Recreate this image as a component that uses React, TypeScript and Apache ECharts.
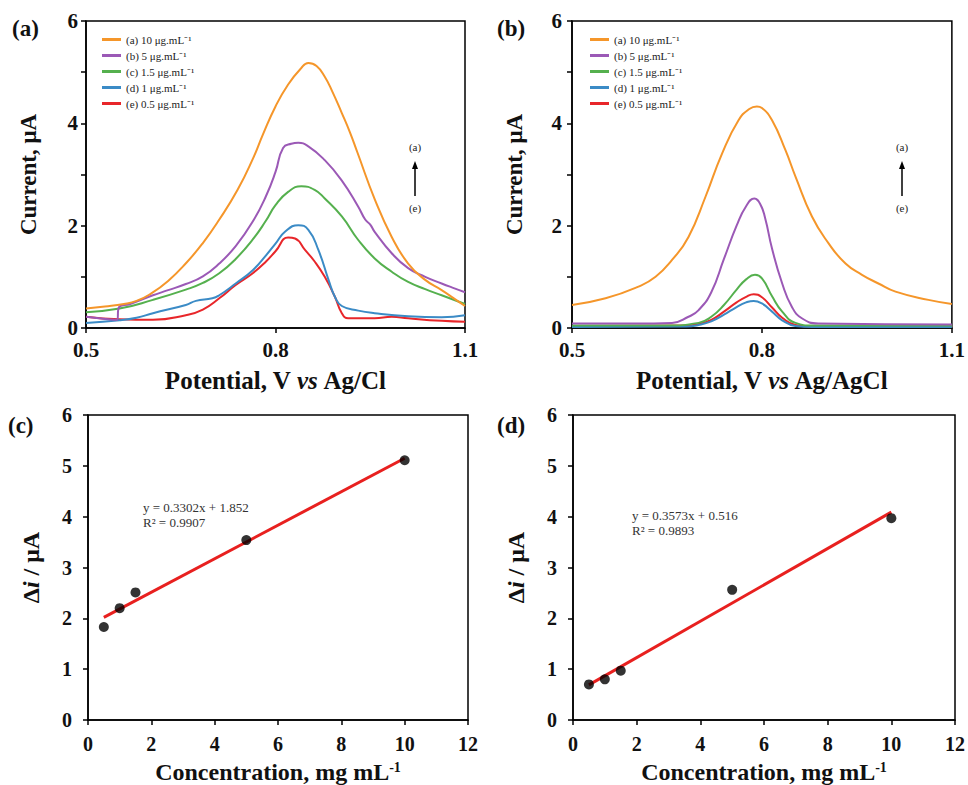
import React, { useEffect, useRef } from 'react';
import * as echarts from 'echarts';

const FONT = "'Liberation Serif', 'Times New Roman', serif";

const seriesNames = ['(a) 10 μg.mL⁻¹', '(b) 5 μg.mL⁻¹', '(c) 1.5 μg.mL⁻¹', '(d) 1 μg.mL⁻¹', '(e) 0.5 μg.mL⁻¹'];
const seriesColors = ['#F5962A', '#9B59B6', '#55B04E', '#3B8BC6', '#E8262A'];

// Panel (a): potential (V) vs current (μA)
const a10 = [[0.5, 0.38], [0.53, 0.42], [0.56, 0.47], [0.58, 0.53], [0.6, 0.65], [0.63, 0.92], [0.66, 1.29], [0.685, 1.66], [0.71, 2.1], [0.74, 2.7], [0.765, 3.33], [0.78, 3.78], [0.8, 4.33], [0.82, 4.76], [0.84, 5.07], [0.852, 5.18], [0.865, 5.12], [0.878, 4.91], [0.89, 4.62], [0.905, 4.2], [0.918, 3.82], [0.93, 3.42], [0.957, 2.52], [0.984, 1.78], [1.01, 1.26], [1.037, 0.94], [1.063, 0.74], [1.08, 0.6], [1.1, 0.43]];
const a5 = [[0.5, 0.22], [0.52, 0.19], [0.549, 0.16], [0.552, 0.4], [0.57, 0.47], [0.606, 0.64], [0.63, 0.74], [0.658, 0.86], [0.685, 1.01], [0.711, 1.26], [0.737, 1.6], [0.764, 2.08], [0.785, 2.58], [0.8, 3.05], [0.812, 3.52], [0.825, 3.6], [0.836, 3.62], [0.852, 3.55], [0.878, 3.28], [0.905, 2.88], [0.931, 2.37], [0.942, 2.12], [0.95, 2.02], [0.957, 1.88], [0.984, 1.46], [1.01, 1.17], [1.037, 1.0], [1.063, 0.87], [1.08, 0.79], [1.1, 0.7]];
const a15 = [[0.5, 0.31], [0.553, 0.38], [0.606, 0.55], [0.658, 0.75], [0.685, 0.88], [0.711, 1.07], [0.737, 1.35], [0.764, 1.73], [0.785, 2.1], [0.8, 2.4], [0.82, 2.66], [0.841, 2.77], [0.862, 2.7], [0.878, 2.53], [0.905, 2.18], [0.931, 1.72], [0.957, 1.36], [0.984, 1.1], [1.01, 0.9], [1.037, 0.76], [1.063, 0.64], [1.1, 0.47]];
const a1 = [[0.5, 0.1], [0.553, 0.15], [0.58, 0.2], [0.606, 0.29], [0.658, 0.45], [0.674, 0.53], [0.7, 0.58], [0.711, 0.64], [0.737, 0.87], [0.764, 1.13], [0.785, 1.42], [0.8, 1.65], [0.815, 1.88], [0.836, 2.01], [0.852, 1.92], [0.868, 1.52], [0.884, 0.94], [0.894, 0.61], [0.905, 0.43], [0.931, 0.34], [0.957, 0.29], [1.01, 0.23], [1.063, 0.21], [1.1, 0.25]];
const a05 = [[0.5, 0.22], [0.553, 0.17], [0.606, 0.16], [0.658, 0.25], [0.685, 0.36], [0.711, 0.58], [0.737, 0.84], [0.764, 1.07], [0.785, 1.3], [0.8, 1.5], [0.82, 1.77], [0.831, 1.75], [0.847, 1.52], [0.862, 1.3], [0.878, 1.0], [0.894, 0.61], [0.905, 0.29], [0.915, 0.19], [0.957, 0.19], [0.984, 0.22], [1.01, 0.19], [1.063, 0.14], [1.1, 0.12]];

// Panel (b)
const b10 = [[0.5, 0.45], [0.553, 0.58], [0.605, 0.81], [0.632, 1.0], [0.658, 1.33], [0.684, 1.78], [0.711, 2.57], [0.737, 3.41], [0.763, 4.06], [0.78, 4.28], [0.792, 4.33], [0.8, 4.3], [0.816, 4.06], [0.837, 3.48], [0.853, 2.96], [0.879, 2.18], [0.905, 1.66], [0.932, 1.26], [0.958, 1.04], [0.984, 0.87], [1.011, 0.71], [1.063, 0.55], [1.1, 0.47]];
const b5 = [[0.5, 0.09], [0.6, 0.09], [0.658, 0.1], [0.684, 0.22], [0.7, 0.35], [0.72, 0.7], [0.74, 1.35], [0.76, 2.0], [0.775, 2.38], [0.788, 2.53], [0.797, 2.43], [0.805, 2.15], [0.816, 1.55], [0.832, 0.87], [0.847, 0.42], [0.863, 0.19], [0.889, 0.09], [1.1, 0.07]];
const b15 = [[0.5, 0.05], [0.65, 0.05], [0.7, 0.1], [0.72, 0.22], [0.74, 0.45], [0.76, 0.75], [0.775, 0.95], [0.789, 1.04], [0.8, 0.97], [0.816, 0.62], [0.832, 0.32], [0.853, 0.1], [0.88, 0.05], [1.1, 0.05]];
const b1 = [[0.5, 0.02], [0.68, 0.03], [0.7, 0.06], [0.72, 0.13], [0.74, 0.26], [0.76, 0.41], [0.775, 0.5], [0.787, 0.53], [0.8, 0.48], [0.816, 0.32], [0.832, 0.15], [0.853, 0.04], [0.88, 0.02], [1.1, 0.02]];
const b05 = [[0.5, 0.04], [0.68, 0.05], [0.7, 0.08], [0.72, 0.16], [0.74, 0.32], [0.76, 0.5], [0.775, 0.61], [0.787, 0.66], [0.8, 0.6], [0.816, 0.4], [0.832, 0.2], [0.853, 0.06], [0.88, 0.03], [1.1, 0.03]];

// Panel (c) / (d): concentration vs Δi
const concentrations = [0.5, 1, 1.5, 5, 10];
const deltaIC = [1.83, 2.2, 2.51, 3.54, 5.11];
const deltaID = [0.7, 0.8, 0.97, 2.56, 3.97];
const fitC = [[0.5, 2.02], [10, 5.15]];
const fitD = [[0.5, 0.69], [10, 4.09]];
const eqC = ['y = 0.3302x + 1.852', 'R² = 0.9907'];
const eqD = ['y = 0.3573x + 0.516', 'R² = 0.9893'];

const potentialTicks = { min: 0.5, max: 1.1, interval: 0.3 };
const currentTicks = { min: 0, max: 6, interval: 1 };
const concTicks = { min: 0, max: 12, interval: 2 };

const grids = [
  { left: 86, top: 21, width: 379, height: 307 },
  { left: 572, top: 21, width: 380, height: 307 },
  { left: 88, top: 415, width: 380, height: 307 },
  { left: 573, top: 415, width: 382, height: 307 },
];

const labelStyle = { fontFamily: FONT, fontWeight: 'bold' as const, fontSize: 21, color: '#111' };
const mkRich = (size: number) => ({
  n: { fontFamily: FONT, fontWeight: 'bold' as const, fontSize: size, color: '#111' },
  i: { fontFamily: FONT, fontWeight: 'bold' as const, fontStyle: 'italic' as const, fontSize: size, color: '#111' },
  s: { fontFamily: FONT, fontWeight: 'bold' as const, fontSize: Math.round(size * 0.6), color: '#111', verticalAlign: 'top' as const },
});

function axisBase() {
  return {
    type: 'value' as const,
    axisLine: { show: true, onZero: false, lineStyle: { color: '#000', width: 1.5 } },
    axisTick: { show: true, inside: false, length: 5, lineStyle: { color: '#000', width: 1.5 } },
    splitLine: { show: false },
  };
}

function App() {
  const ref = useRef<HTMLDivElement>(null);
  useEffect(() => {
    document.body.style.margin = '0';
    if (!ref.current) return;
    const chart = echarts.init(ref.current, null, { renderer: 'svg' });

    const curveSeries = (data: number[][], idx: number, axis: number) => ({
      type: 'line',
      name: seriesNames[idx],
      xAxisIndex: axis,
      yAxisIndex: axis,
      data,
      showSymbol: false,
      symbol: 'none',
      smooth: 0.5,
      lineStyle: { width: 2, color: seriesColors[idx] },
      itemStyle: { color: seriesColors[idx] },
      z: 10 - idx,
    });

    const legendCommon = {
      orient: 'vertical',
      top: 28,
      itemWidth: 19,
      itemHeight: 3,
      itemGap: 3,
      icon: 'rect',
      selectedMode: false,
      data: seriesNames,
      textStyle: { fontFamily: FONT, fontSize: 11, color: '#222', lineHeight: 13 },
    };

    const txt = (text: string, x: number, y: number, size: number, opts: any = {}) => ({
      type: 'text',
      x,
      y,
      style: {
        text,
        fontFamily: FONT,
        fontSize: size,
        fontWeight: opts.bold ? 'bold' : 'normal',
        fill: opts.fill || '#111',
        align: opts.align || 'left',
        verticalAlign: 'middle',
      },
    });

    const arrow = (x: number) => [
      txt('(a)', x, 147, 11, { align: 'center', fill: '#222' }),
      txt('(e)', x, 208, 11, { align: 'center', fill: '#222' }),
      { type: 'line', shape: { x1: x, y1: 196, x2: x, y2: 167 }, style: { stroke: '#000', lineWidth: 1.5 } },
      { type: 'polygon', shape: { points: [[x - 3, 169], [x + 3, 169], [x, 161]] }, style: { fill: '#000' } },
    ];

    const yNameStyle = { fontFamily: FONT, fontWeight: 'bold', fontSize: 23, color: '#111' };

    const option: any = {
      animation: false,
      backgroundColor: '#fff',
      grid: grids.map((g) => ({ ...g, show: true, borderColor: '#000', borderWidth: 1.5, backgroundColor: 'transparent', containLabel: false })),
      legend: [
        { ...legendCommon, left: 97 },
        { ...legendCommon, left: 585 },
      ],
      xAxis: [
        {
          ...axisBase(), gridIndex: 0, ...potentialTicks,
          axisLabel: { ...labelStyle, margin: 11 },
          name: '{n|Potential, V }{i|vs}{n| Ag/Cl}', nameLocation: 'middle', nameGap: 40,
          nameTextStyle: { rich: mkRich(25) },
        },
        {
          ...axisBase(), gridIndex: 1, ...potentialTicks,
          axisLabel: { ...labelStyle, margin: 11 },
          name: '{n|Potential, V }{i|vs}{n| Ag/AgCl}', nameLocation: 'middle', nameGap: 40,
          nameTextStyle: { rich: mkRich(25) },
        },
        {
          ...axisBase(), gridIndex: 2, ...concTicks,
          axisLabel: { ...labelStyle, fontSize: 20, margin: 14 },
          name: '{n|Concentration, mg mL}{s|-1}', nameLocation: 'middle', nameGap: 40,
          nameTextStyle: { rich: mkRich(24) },
        },
        {
          ...axisBase(), gridIndex: 3, ...concTicks,
          axisLabel: { ...labelStyle, fontSize: 20, margin: 14 },
          name: '{n|Concentration, mg mL}{s|-1}', nameLocation: 'middle', nameGap: 40,
          nameTextStyle: { rich: mkRich(24) },
        },
      ],
      yAxis: [
        {
          ...axisBase(), gridIndex: 0, ...currentTicks,
          axisLabel: { ...labelStyle, margin: 8, formatter: (v: number) => (v % 2 === 0 ? String(v) : '') },
          name: 'Current, μA', nameLocation: 'middle', nameGap: 46,
          nameTextStyle: yNameStyle,
        },
        {
          ...axisBase(), gridIndex: 1, ...currentTicks,
          axisLabel: { ...labelStyle, margin: 10, formatter: (v: number) => (v % 2 === 0 ? String(v) : '') },
          name: 'Current, μA', nameLocation: 'middle', nameGap: 46,
          nameTextStyle: yNameStyle,
        },
        {
          ...axisBase(), gridIndex: 2, ...currentTicks,
          axisLabel: { ...labelStyle, fontSize: 20, margin: 16 },
          name: '{n|Δ}{i|i}{n| / μA}', nameLocation: 'middle', nameGap: 45,
          nameTextStyle: { rich: mkRich(24) },
        },
        {
          ...axisBase(), gridIndex: 3, ...currentTicks,
          axisLabel: { ...labelStyle, fontSize: 20, margin: 16 },
          name: '{n|Δ}{i|i}{n| / μA}', nameLocation: 'middle', nameGap: 45,
          nameTextStyle: { rich: mkRich(24) },
        },
      ],
      series: [
        curveSeries(a10, 0, 0), curveSeries(a5, 1, 0), curveSeries(a15, 2, 0), curveSeries(a1, 3, 0), curveSeries(a05, 4, 0),
        curveSeries(b10, 0, 1), curveSeries(b5, 1, 1), curveSeries(b15, 2, 1), curveSeries(b1, 3, 1), curveSeries(b05, 4, 1),
        {
          type: 'line', xAxisIndex: 2, yAxisIndex: 2, data: fitC, symbol: 'none',
          lineStyle: { color: '#E8201F', width: 3 }, z: 3,
        },
        {
          type: 'scatter', xAxisIndex: 2, yAxisIndex: 2, symbolSize: 10,
          data: concentrations.map((c, i) => [c, deltaIC[i]]), itemStyle: { color: '#000' }, z: 4,
        },
        {
          type: 'line', xAxisIndex: 3, yAxisIndex: 3, data: fitD, symbol: 'none',
          lineStyle: { color: '#E8201F', width: 3 }, z: 3,
        },
        {
          type: 'scatter', xAxisIndex: 3, yAxisIndex: 3, symbolSize: 10,
          data: concentrations.map((c, i) => [c, deltaID[i]]), itemStyle: { color: '#000' }, z: 4,
        },
      ],
      graphic: [
        txt('(a)', 12, 28, 23, { bold: true }),
        txt('(b)', 497, 28, 23, { bold: true }),
        txt('(c)', 8, 425, 23, { bold: true }),
        txt('(d)', 497, 425, 23, { bold: true }),
        ...arrow(415),
        ...arrow(902),
        txt(eqC[0], 143, 507, 13, { fill: '#333' }),
        txt(eqC[1], 143, 522, 13, { fill: '#333' }),
        txt(eqD[0], 632, 515, 13, { fill: '#333' }),
        txt(eqD[1], 632, 530, 13, { fill: '#333' }),
      ],
    };

    chart.setOption(option);
    return () => chart.dispose();
  }, []);

  return <div ref={ref} style={{ width: 968, height: 785 }} />;
}

export default App;
